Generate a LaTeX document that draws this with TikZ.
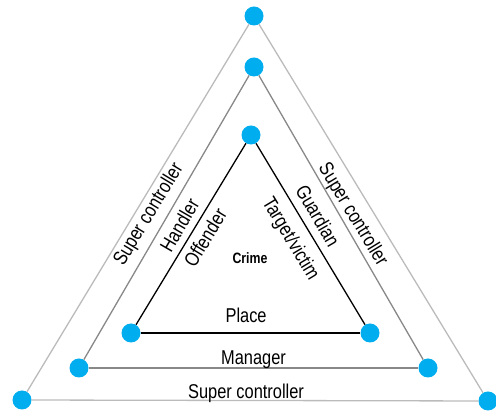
\documentclass[tikz,border=0pt]{standalone}
\usepackage{fontspec}
\setmainfont{Liberation Sans}[FakeStretch=0.82]
\usepackage{xcolor}
\definecolor{dotblue}{HTML}{00AEEF}
\definecolor{outergray}{HTML}{BBBBBB}
\definecolor{midgray}{HTML}{888888}

\tikzset{
    dot/.style={circle, fill=dotblue, minimum size=19pt, inner sep=0pt},
    side/.style={line width=1.3pt},
    lbl/.style={font=\fontsize{20}{24}\selectfont, text=black, inner sep=0pt, sloped},
}

\begin{document}
\begin{tikzpicture}[x=1pt,y=1pt]
    \useasboundingbox (0,0) rectangle (496,412);
    %%Outer triangle
    \node[dot] (otop) at (254,396) {};
    \node[dot] (oleft) at (22,12) {};
    \node[dot] (oright) at (488,11) {};
    \draw[side, outergray] (oleft) -- node[lbl, pos=.5, below=3pt]{Super controller} (otop);
    \draw[side, outergray] (otop) -- node[lbl, pos=.49, below=9pt]{Super controller} (oright);
    \draw[side, outergray] (oleft) -- node[lbl, pos=.48, above=-3pt]{Super controller} (oright);
    %%Middle triangle
    \node[dot] (mtop) at (254,345) {};
    \node[dot] (mleft) at (79,44) {};
    \node[dot] (mright) at (428,44) {};
    \draw[side, midgray] (mleft) -- node[lbl, pos=.5, below=7pt]{Handler} (mtop);
    \draw[side, midgray] (mtop) -- node[lbl, pos=.46, below=11pt]{Guardian} (mright);
    \draw[side, midgray] (mleft) -- node[lbl, pos=.5, above=-1pt]{Manager} (mright);
    %%Inner triangle
    \node[dot] (itop) at (251,277) {};
    \node[dot] (ileft) at (131,79) {};
    \node[dot] (iright) at (370,79) {};
    \draw[side, black] (ileft) -- node[lbl, pos=.52, below=6pt]{Offender} (itop);
    \draw[side, black] (itop) -- node[lbl, pos=.47, below=10pt]{Target/victim} (iright);
    \draw[side, black] (ileft) -- node[lbl, pos=.48, above=10pt]{Place} (iright);
    %%Centre
    \node[font=\fontsize{15}{18}\selectfont\bfseries] (crime) at (250,154) {Crime};
\end{tikzpicture}
\end{document}
